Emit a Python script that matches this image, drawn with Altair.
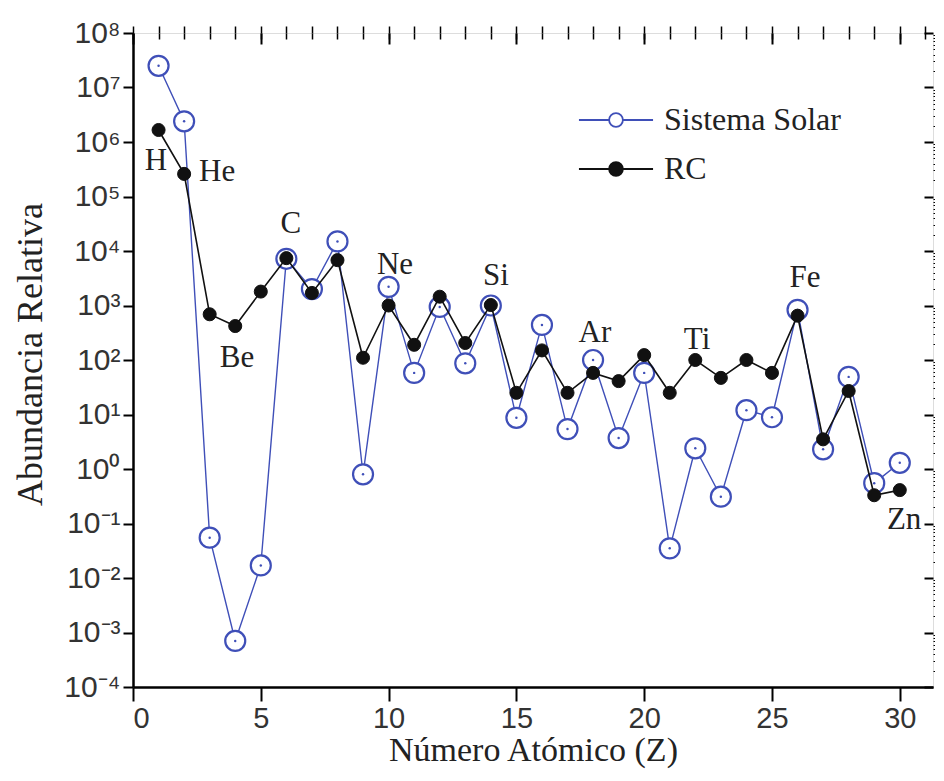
import altair as alt
import pandas as pd

# ---- data ----
Z = list(range(1, 31))
solar = [2.5e7, 2.4e6, 0.055, 7e-4, 0.017, 7.2e3, 2.0e3, 1.5e4, 0.8, 2.2e3,
         58, 940, 87, 1.0e3, 8.7, 440, 5.4, 100, 3.7, 58,
         0.035, 2.4, 0.31, 12, 8.9, 830, 2.3, 49, 0.55, 1.3]
rc = [1.66e6, 2.6e5, 690, 420, 1.8e3, 7.4e3, 1.7e3, 6.8e3, 110, 1.0e3,
      190, 1.45e3, 205, 1.02e3, 25, 150, 25, 58, 41, 123,
      25, 100, 47, 100, 58, 650, 3.5, 27, 0.33, 0.41]
series = ["Sistema Solar", "RC"]
el_labels = ["H", "He", "Be", "C", "Ne", "Si", "Ar", "Ti", "Fe", "Zn"]
el_x = [0.9, 3.29, 4.07, 6.18, 10.25, 14.2, 18.07, 22.07, 26.29, 30.17]
el_y = [4.5e5, 2.8e5, 109, 3.1e4, 5.5e3, 3.5e3, 313, 233, 3.2e3, 0.116]
x_major_ticks = [0, 5, 10, 15, 20, 25, 30]
x_minor_ticks = list(range(0, 32))
y_major_ticks = [10.0 ** k for k in range(-4, 9)]
y_minor_ticks = [m * 10.0 ** k for k in range(-4, 8) for m in range(2, 10)]

BLUE = "#3f4fb8"
BLACK = "#111111"

df = pd.DataFrame({
    "Z": Z * 2,
    "value": solar + rc,
    "series": [series[0]] * len(Z) + [series[1]] * len(Z),
})
lab = pd.DataFrame({"Z": el_x, "value": el_y, "label": el_labels})

W, H = 800, 654
xs = alt.Scale(domain=[0, 31.3], nice=False, zero=False)
ys = alt.Scale(type="log", domain=[1e-4, 1e8], nice=False)

SANS = "Liberation Sans"
SERIF = "Liberation Serif"

sup = "['\u2070','\u00b9','\u00b2','\u00b3','\u2074','\u2075','\u2076','\u2077','\u2078','\u2079']"
y_label_expr = ("'10' + (datum.value < 1 ? '\u207b' : '') + " + sup +
                "[abs(round(log(datum.value)/LN10))]")

x_major = alt.Axis(values=x_major_ticks, format="d", title="Número Atómico (Z)",
                   tickSize=14, tickWidth=2, tickColor="black",
                   domainColor="black", domainWidth=2.5, grid=False,
                   labelFont=SANS, labelFontSize=29, labelColor="#333",
                   labelPadding=3, titleFont=SERIF, titleFontSize=34,
                   titleFontWeight="normal", titleColor="#222",
                   titleY=73, titleBaseline="alphabetic")
x_minor = alt.Axis(values=x_minor_ticks, labels=False, title="", tickSize=7,
                   tickWidth=1.5, tickColor="black", domain=False, grid=False)
x_top_minor = alt.Axis(orient="top", values=x_minor_ticks, labels=False, title="",
                       tickSize=6, offset=-6, tickWidth=1.5, tickColor="black",
                       domain=False, grid=False)
x_top_major = alt.Axis(orient="top", values=x_major_ticks, labels=False, title="",
                       tickSize=11, offset=-11, tickWidth=2, tickColor="black",
                       domain=False, grid=False)

y_major = alt.Axis(values=y_major_ticks, labelExpr=y_label_expr,
                   title="Abundancia Relativa", tickSize=10, tickWidth=2,
                   tickColor="black", domainColor="black", domainWidth=2.5,
                   grid=False, labelFont=SANS, labelFontSize=30, labelColor="#333",
                   labelPadding=3, titleFont=SERIF, titleFontSize=36,
                   titleFontWeight="normal", titleColor="#222",
                   titleX=-103, titleY=H / 2 - 6, titleAlign="center",
                   titleBaseline="middle", titleAngle=270)
y_minor = alt.Axis(values=y_minor_ticks, labels=False, title="", tickSize=5,
                   tickWidth=1.2, tickColor="black", domain=False, grid=False)
y_right = alt.Axis(orient="right", values=y_major_ticks, labels=False, title="",
                   tickSize=9, offset=-9, tickWidth=2, tickColor="black",
                   domain=False, grid=False)

legend_path = ("M-2.47,0L-0.46,0M0.46,0L2.47,0"
               "M-0.46,0A0.46,0.46,0,1,1,0.46,0A0.46,0.46,0,1,1,-0.46,0Z")
leg = alt.Legend(title=None, orient="none", legendX=467, legendY=71,
                 symbolType=legend_path, symbolSize=900, symbolStrokeWidth=1.8,
                 labelFont=SERIF, labelFontSize=32, labelColor="#222",
                 labelOffset=32, rowPadding=17, padding=0, labelLimit=400)

stroke_enc = alt.Stroke("series:N", scale=alt.Scale(domain=series, range=[BLUE, BLACK]),
                        legend=leg)
fill_enc = alt.Fill("series:N", scale=alt.Scale(domain=series, range=["white", BLACK]),
                    legend=leg)

base = alt.Chart(df)

solar_line = base.transform_filter(alt.datum.series == series[0]).mark_line(
    strokeWidth=1.4).encode(
    x=alt.X("Z:Q", scale=xs, axis=x_major),
    y=alt.Y("value:Q", scale=ys, axis=y_major),
    stroke=stroke_enc,
)
solar_pts = base.transform_filter(alt.datum.series == series[0]).mark_point(
    shape="circle", filled=True, size=400, strokeWidth=2.2, opacity=1).encode(
    x=alt.X("Z:Q", scale=xs, axis=x_minor),
    y=alt.Y("value:Q", scale=ys, axis=y_minor),
    stroke=stroke_enc,
    fill=fill_enc,
)
solar_dot = base.transform_filter(alt.datum.series == series[0]).mark_point(
    shape="circle", filled=True, size=6, color=BLUE, opacity=1).encode(
    x=alt.X("Z:Q", scale=xs, axis=x_top_minor),
    y=alt.Y("value:Q", scale=ys, axis=y_right),
)
rc_line = base.transform_filter(alt.datum.series == series[1]).mark_line(
    strokeWidth=1.6).encode(
    x=alt.X("Z:Q", scale=xs, axis=x_top_major),
    y=alt.Y("value:Q", scale=ys, axis=None),
    stroke=stroke_enc,
)
rc_pts = base.transform_filter(alt.datum.series == series[1]).mark_point(
    shape="circle", filled=True, size=170, strokeWidth=1, opacity=1).encode(
    x=alt.X("Z:Q", scale=xs, axis=None),
    y=alt.Y("value:Q", scale=ys, axis=None),
    stroke=stroke_enc,
    fill=fill_enc,
)
texts = alt.Chart(lab).mark_text(font=SERIF, fontSize=31, color="#222",
                                 align="center", baseline="middle").encode(
    x=alt.X("Z:Q", scale=xs, axis=None),
    y=alt.Y("value:Q", scale=ys, axis=None),
    text="label:N",
)

chart = alt.layer(solar_line, solar_pts, solar_dot, rc_line, rc_pts, texts).resolve_axis(
    x="independent", y="independent"
).properties(
    width=W, height=H,
    autosize=alt.AutoSizeParams(type="none"),
    padding={"left": 125, "top": 25, "right": 2, "bottom": 84},
).configure_view(stroke="black", strokeWidth=2).configure(background="white")

chart.save("out.html", embed_options={"renderer": "svg", "actions": False})
